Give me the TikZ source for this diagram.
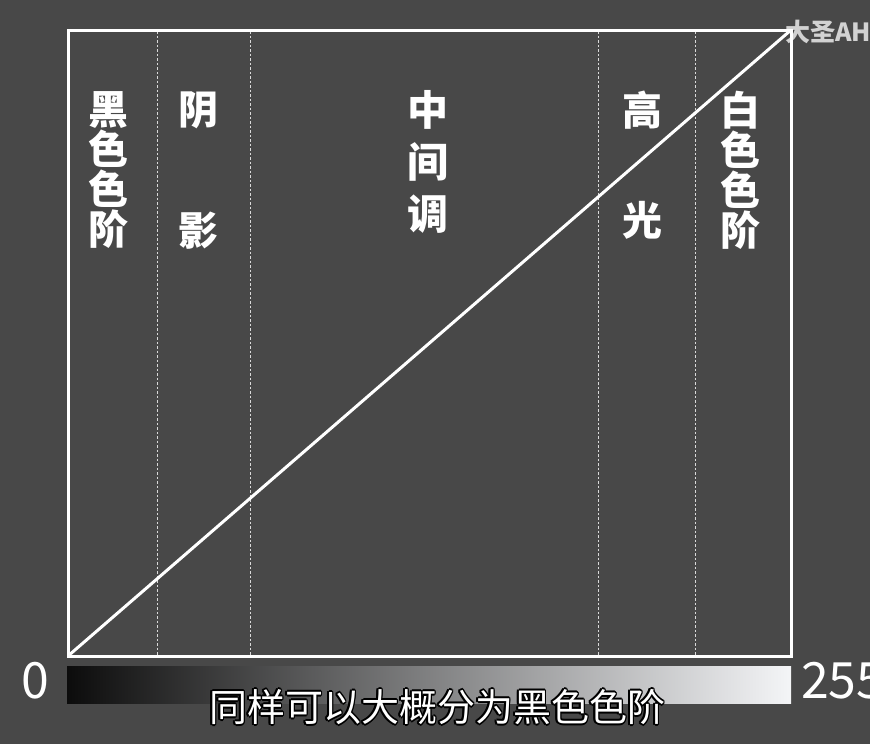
\documentclass[tikz,border=0pt]{standalone}
\usepackage{fontspec}
\newfontfamily\cjk{Noto Sans CJK SC}
\definecolor{bgcol}{HTML}{484848}
\definecolor{markcol}{HTML}{D2D2D2}
\definecolor{barleft}{HTML}{0C0C0C}
\definecolor{barright}{HTML}{F4F5F7}
\tikzset{
  zone/.style={text=white,inner sep=0pt,align=center,font=\cjk\bfseries\fontsize{40}{40}\selectfont},
  zonesep/.style={white!80!bgcol,line width=0.8pt,dash pattern=on 2.5pt off 2pt},
  scalenum/.style={text=white,inner sep=0pt,font=\cjk\fontsize{50}{50}\selectfont},
}
\begin{document}
\begin{tikzpicture}[x=1pt,y=-1pt]
  \useasboundingbox (0,0) rectangle (870,744);
  \fill[bgcol] (0,0) rectangle (870,744);
  \node[text=markcol,anchor=west,inner sep=0pt,font=\cjk\bfseries\fontsize{25}{25}\selectfont]
    (mark) at (785,32) {大圣AH};
  % tone zones
  \foreach \x in {157,250,598,695}
    \draw[zonesep] (\x,31) -- (\x,655);
  \coordinate (lowleft) at (68,656);
  \coordinate (upright) at (791,30);
  \draw[white,line width=3pt] (lowleft) rectangle (upright);
  \draw[white,line width=3pt] (lowleft) -- (upright);
  \node[zone] (blacklvl) at (108,170) {黑\\色\\色\\阶};
  \node[zone] (shadowa) at (198,110) {阴};
  \node[zone] (shadowb) at (198,231) {影};
  \node[zone,font=\cjk\bfseries\fontsize{41}{52}\selectfont] (midtone) at (428,162) {中\\间\\调};
  \node[zone] (hilitea) at (642,110) {高};
  \node[zone] (hiliteb) at (642,220) {光};
  \node[zone] (whitelvl) at (740,170) {白\\色\\色\\阶};
  % grey ramp
  \shade[left color=barleft,right color=barright] (67,666) rectangle (791,703);
  \node[scalenum] (zero) at (35,681) {0};
  \node[scalenum,anchor=west] (full) at (801,681) {255};
  % caption with outline
  \foreach \dx/\dy in {-1.6/0,1.6/0,0/-1.6,0/1.6,-1.2/-1.2,1.2/1.2,-1.2/1.2,1.2/-1.2}
    \node[text=black,inner sep=0pt,font=\cjk\fontsize{38}{38}\selectfont]
      at (437+\dx,707+\dy) {同样可以大概分为黑色色阶};
  \node[text=white,inner sep=0pt,font=\cjk\fontsize{38}{38}\selectfont]
    (caption) at (437,707) {同样可以大概分为黑色色阶};
\end{tikzpicture}
\end{document}
